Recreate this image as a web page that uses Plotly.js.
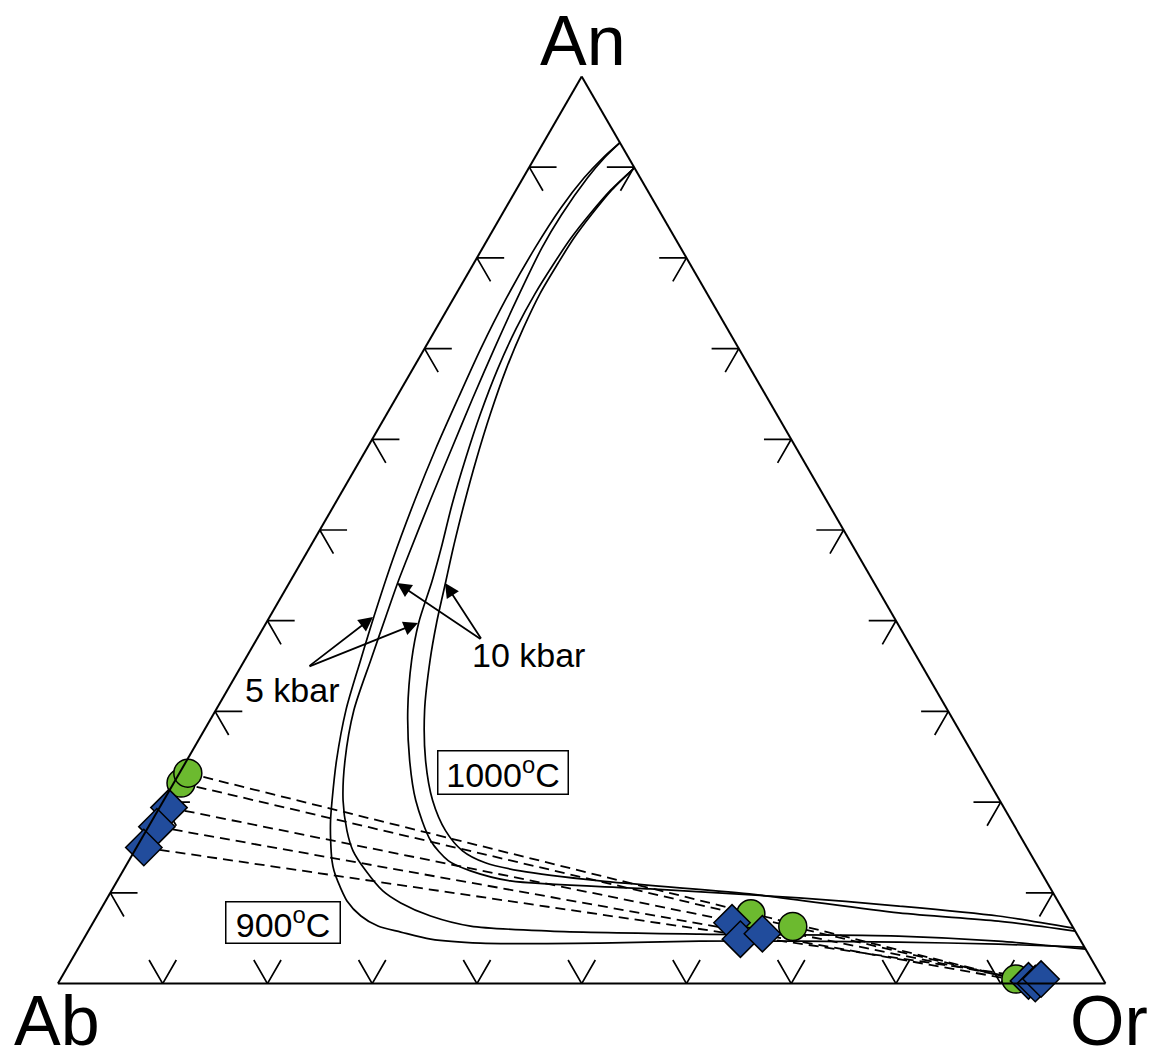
<!DOCTYPE html>
<html>
<head>
<meta charset="utf-8">
<script src="https://cdn.plot.ly/plotly-3.0.1.min.js"></script>
<style>html,body{margin:0;padding:0;background:#fff;}#chart{width:1156px;height:1062px;}</style>
</head>
<body>
<div id="chart"></div>
<script>
// ---- data (ternary percentages: An = a, Or = c, Ab = 100 - An - Or) ----
const tickValues = [10, 20, 30, 40, 50, 60, 70, 80, 90];

const c900_5kbar_An = [92.69, 91.03, 88.82, 85.50, 81.07, 75.53, 70.00, 64.47, 58.93, 53.39, 46.75, 40.44, 35.68, 30.15, 24.61, 20.18, 17.97, 15.75, 13.53, 12.43, 11.32, 9.11, 7.45, 6.34, 5.68, 4.90, 4.46, 4.46, 4.68, 4.68, 4.57, 4.35, 4.02];
const c900_5kbar_Or = [7.31, 6.52, 5.82, 5.26, 5.00, 5.03, 5.37, 5.95, 6.59, 7.41, 8.59, 9.94, 11.06, 12.42, 14.29, 16.08, 17.04, 18.16, 19.40, 20.14, 21.04, 23.04, 25.20, 27.38, 29.89, 33.13, 38.10, 49.51, 58.91, 68.42, 77.97, 87.59, 95.98];

const c900_10kbar_An = [92.69, 91.03, 88.82, 84.72, 81.07, 75.53, 70.00, 64.47, 58.93, 53.39, 46.75, 44.21, 40.44, 35.68, 30.15, 24.61, 20.18, 16.86, 14.64, 12.43, 10.21, 8.89, 7.45, 6.34, 5.79, 5.46, 5.24, 4.68, 3.80];
const c900_10kbar_Or = [7.31, 6.66, 6.15, 5.70, 5.65, 6.08, 6.66, 7.34, 8.11, 8.89, 9.92, 10.34, 11.08, 12.03, 13.18, 15.10, 17.13, 19.16, 20.85, 23.18, 25.91, 28.28, 31.85, 36.22, 44.09, 58.52, 77.63, 87.42, 96.20];

const c1000_5kbar_An = [89.93, 87.49, 84.83, 82.18, 79.41, 76.09, 72.22, 67.79, 62.81, 57.83, 52.84, 48.41, 46.75, 44.21, 39.78, 35.68, 30.15, 24.61, 20.18, 15.75, 13.53, 12.43, 11.32, 10.44, 9.45, 8.55, 7.45, 6.12];
const c1000_5kbar_Or = [10.07, 9.04, 8.37, 7.89, 7.66, 7.52, 7.64, 8.10, 8.93, 9.99, 11.21, 12.47, 12.92, 13.57, 14.55, 15.93, 18.32, 21.27, 24.07, 27.71, 30.52, 33.17, 37.53, 51.32, 66.03, 76.00, 86.04, 93.88];

const c1000_10kbar_An = [89.93, 87.49, 84.83, 82.18, 79.41, 76.09, 72.22, 67.79, 62.81, 57.83, 52.84, 48.41, 46.75, 44.21, 39.78, 35.68, 30.15, 24.61, 20.18, 16.86, 14.64, 13.32, 12.43, 11.32, 9.89, 7.79, 6.89, 5.79];
const c1000_10kbar_Or = [10.07, 9.13, 8.56, 8.17, 8.04, 7.99, 8.31, 8.91, 9.88, 11.04, 12.35, 13.61, 14.11, 14.90, 16.26, 17.69, 19.93, 22.79, 25.68, 28.57, 31.30, 34.14, 37.92, 46.08, 61.06, 76.36, 86.32, 94.21];

// feldspar analyses: plagioclase (left), alkali feldspar (middle), K-feldspar (Or corner)
const plagCircle_An = [22.1, 23.2];
const plagCircle_Or = [0.7, 0.8];
const plagDiamond_An = [19.4, 17.3, 15.0];
const plagDiamond_Or = [0.9, 0.8, 0.7];
const midCircle_An = [7.7, 6.3];
const midCircle_Or = [62.3, 67.0];
const midDiamond_An = [6.7, 4.9, 5.5];
const midDiamond_Or = [61.0, 62.7, 64.5];
const orCircle_An = [0.5];
const orCircle_Or = [91.2];
const orDiamond_An = [0.3, 0.0, 0.5];
const orDiamond_Or = [92.5, 93.3, 93.6];

// tie lines: plagioclase -> K-feldspar (passing the middle analyses)
const tie_An_from = [23.2, 22.1, 19.4, 17.3, 15.0];
const tie_Or_from = [0.8, 0.7, 0.9, 0.8, 0.7];
const tie_An_to = [0.5, 0.5, 0.3, 0.0, 0.5];
const tie_Or_to = [91.2, 91.2, 92.5, 93.3, 93.6];

// ---- styles ----
const TICK_LEN = 2.6;
const GREEN = '#6cba2f';
const BLUE = '#214c9c';

// chevron tick marks built from tickValues
const tickA = [], tickC = [];
tickValues.forEach(v => {
  tickA.push(v, v, v - TICK_LEN, null); tickC.push(TICK_LEN, 0, TICK_LEN, null);                  // An-Ab edge
  tickA.push(TICK_LEN, 0, TICK_LEN, null); tickC.push(v, v, v - TICK_LEN, null);                  // Ab-Or edge
  tickA.push(v, v, v - TICK_LEN, null); tickC.push(100 - v - TICK_LEN, 100 - v, 100 - v, null);   // An-Or edge
});

const tieA = [], tieC = [];
tie_An_from.forEach((a, i) => {
  tieA.push(a, tie_An_to[i], null);
  tieC.push(tie_Or_from[i], tie_Or_to[i], null);
});

function curve(a, c, name) {
  return {type: 'scatterternary', mode: 'lines', a: a, c: c, name: name,
    line: {color: 'black', width: 1.7, shape: 'spline', smoothing: 0.8}, cliponaxis: false, hoverinfo: 'skip'};
}

const traces = [
  {type: 'scatterternary', mode: 'lines', a: tickA, c: tickC, line: {color: 'black', width: 1.7},
   cliponaxis: false, hoverinfo: 'skip', connectgaps: false},
  curve(c900_5kbar_An, c900_5kbar_Or, '900°C 5 kbar'),
  curve(c900_10kbar_An, c900_10kbar_Or, '900°C 10 kbar'),
  curve(c1000_5kbar_An, c1000_5kbar_Or, '1000°C 5 kbar'),
  curve(c1000_10kbar_An, c1000_10kbar_Or, '1000°C 10 kbar'),
  {type: 'scatterternary', mode: 'lines', a: tieA, c: tieC, connectgaps: false,
   line: {color: 'black', width: 1.8, dash: '10px,6px'}, cliponaxis: false, hoverinfo: 'skip'},
];
function markers(a, c, sym, color, size) {
  return {type: 'scatterternary', mode: 'markers', a: a, c: c, cliponaxis: false,
    marker: {symbol: sym, color: color, size: size, line: {color: 'black', width: 1.5}}};
}
traces.push(markers(plagCircle_An, plagCircle_Or, 'circle', GREEN, 28));
traces.push(markers(midCircle_An, midCircle_Or, 'circle', GREEN, 28));
traces.push(markers(orCircle_An, orCircle_Or, 'circle', GREEN, 28));
traces.push(markers(plagDiamond_An, plagDiamond_Or, 'diamond', BLUE, 28));
traces.push(markers(midDiamond_An, midDiamond_Or, 'diamond', BLUE, 28));
traces.push(markers(orDiamond_An, orDiamond_Or, 'diamond', BLUE, 28));

const W = 1156, H = 1062;
const px = x => x / W, py = y => 1 - y / H;
const axisStyle = {showline: true, linecolor: 'black', linewidth: 2, showgrid: false,
  ticks: '', showticklabels: false, min: 0, title: {text: ''}};
const font = 'Liberation Sans, Arial, Helvetica, sans-serif';

const arrowBase = {xref: 'paper', yref: 'paper', text: '', showarrow: true, arrowhead: 2,
  arrowsize: 1.6, arrowwidth: 1.8, arrowcolor: 'black', standoff: 0, startstandoff: 0};

const layout = {
  width: W, height: H, showlegend: false,
  paper_bgcolor: 'white', plot_bgcolor: 'white',
  margin: {l: 0, r: 0, t: 0, b: 0, pad: 0},
  font: {family: font, color: 'black'},
  ternary: {
    sum: 100, bgcolor: 'white',
    domain: {x: [57.9 / W, 1105.5 / W], y: [1 - 983.6 / H, 1 - 76.4 / H]},
    aaxis: Object.assign({}, axisStyle),
    baxis: Object.assign({}, axisStyle),
    caxis: Object.assign({}, axisStyle)
  },
  annotations: [
    {xref: 'paper', yref: 'paper', x: px(583), y: 1, text: 'An', showarrow: false, font: {size: 70}, xanchor: 'center', yanchor: 'top'},
    {xref: 'paper', yref: 'paper', x: px(57), y: 0, text: 'Ab', showarrow: false, font: {size: 70}, xanchor: 'center', yanchor: 'bottom'},
    {xref: 'paper', yref: 'paper', x: px(1109), y: 0, text: 'Or', showarrow: false, font: {size: 70}, xanchor: 'center', yanchor: 'bottom'},
    {xref: 'paper', yref: 'paper', x: px(292), y: py(690), text: '5 kbar', showarrow: false, font: {size: 34}, xanchor: 'center', yanchor: 'middle'},
    {xref: 'paper', yref: 'paper', x: px(528), y: py(655), text: '10 kbar', showarrow: false, font: {size: 34}, xanchor: 'center', yanchor: 'middle'},
    {xref: 'paper', yref: 'paper', x: px(282.5), y: py(922), text: '900<sup>o</sup>C', showarrow: false, font: {size: 34},
     xanchor: 'center', yanchor: 'middle', width: 111, height: 38, bordercolor: 'black', borderwidth: 1.5, borderpad: 1, bgcolor: 'white'},
    {xref: 'paper', yref: 'paper', x: px(502.5), y: py(772), text: '1000<sup>o</sup>C', showarrow: false, font: {size: 34},
     xanchor: 'center', yanchor: 'middle', width: 127, height: 40, bordercolor: 'black', borderwidth: 1.5, borderpad: 1, bgcolor: 'white'},
    Object.assign({}, arrowBase, {x: px(373), y: py(617), ax: 308 - 373, ay: 667 - 617}),
    Object.assign({}, arrowBase, {x: px(418), y: py(623), ax: 308 - 418, ay: 667 - 623}),
    Object.assign({}, arrowBase, {x: px(397), y: py(583), ax: 482 - 397, ay: 640 - 583}),
    Object.assign({}, arrowBase, {x: px(445), y: py(583), ax: 482 - 445, ay: 640 - 583})
  ]
};

Plotly.newPlot('chart', traces, layout, {staticPlot: true, displayModeBar: false});
</script>
</body>
</html>
